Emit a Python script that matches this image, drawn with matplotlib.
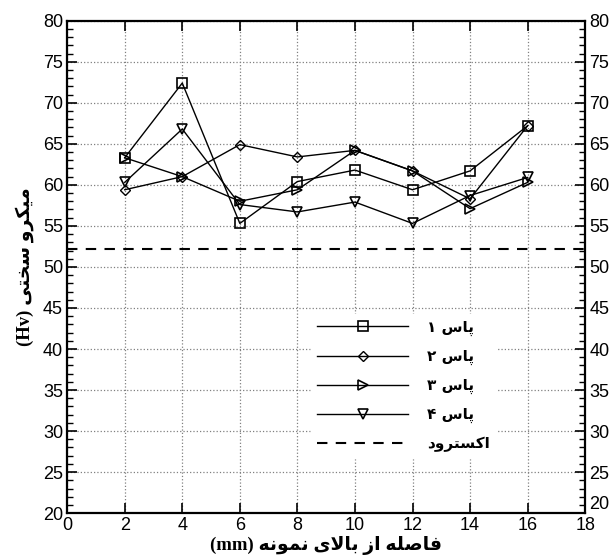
import matplotlib
matplotlib.use("Agg")
import matplotlib.pyplot as plt
from matplotlib.ticker import MultipleLocator

# data
x = [2, 4, 6, 8, 10, 12, 14, 16]
pass1 = [63.3, 72.4, 55.3, 60.4, 61.8, 59.4, 61.7, 67.2]
pass2 = [59.4, 61.0, 64.9, 63.4, 64.2, 61.7, 58.3, 67.2]
pass3 = [63.3, 61.0, 58.0, 59.4, 64.2, 61.7, 57.1, 60.3]
pass4 = [60.3, 66.8, 57.6, 56.7, 57.9, 55.3, 58.7, 60.9]
electrode = 52.2

labels = ["پاس ۱", "پاس ۲", "پاس ۳", "پاس ۴", "اکسترود"]
xlabel = "فاصله از بالای نمونه"
ylabel = "میکرو سختی"

# minimal arabic/persian shaping: (isolated, final, initial, medial)
FORMS = {
    'ا': ('\uFE8D', '\uFE8E', None, None),
    'ب': ('\uFE8F', '\uFE90', '\uFE91', '\uFE92'),
    'ت': ('\uFE95', '\uFE96', '\uFE97', '\uFE98'),
    'خ': ('\uFEA5', '\uFEA6', '\uFEA7', '\uFEA8'),
    'د': ('\uFEA9', '\uFEAA', None, None),
    'ر': ('\uFEAD', '\uFEAE', None, None),
    'ز': ('\uFEAF', '\uFEB0', None, None),
    'س': ('\uFEB1', '\uFEB2', '\uFEB3', '\uFEB4'),
    'ص': ('\uFEB9', '\uFEBA', '\uFEBB', '\uFEBC'),
    'ف': ('\uFED1', '\uFED2', '\uFED3', '\uFED4'),
    'ل': ('\uFEDD', '\uFEDE', '\uFEDF', '\uFEE0'),
    'م': ('\uFEE1', '\uFEE2', '\uFEE3', '\uFEE4'),
    'ن': ('\uFEE5', '\uFEE6', '\uFEE7', '\uFEE8'),
    'ه': ('\uFEE9', '\uFEEA', '\uFEEB', '\uFEEC'),
    'و': ('\uFEED', '\uFEEE', None, None),
    'پ': ('\uFB56', '\uFB57', '\uFB58', '\uFB59'),
    'ک': ('\uFB8E', '\uFB8F', '\uFB90', '\uFB91'),
    'ی': ('\uFBFC', '\uFBFD', '\uFBFE', '\uFBFF'),
}


def shape_word(w):
    out = []
    i = 0
    while i < len(w):
        c = w[i]
        if c not in FORMS:
            out.append(c)
            i += 1
            continue
        prev = w[i - 1] if i > 0 else None
        join_prev = prev in FORMS and FORMS[prev][2] is not None
        if c == 'ل' and i + 1 < len(w) and w[i + 1] == 'ا':
            out.append('\uFEFC' if join_prev else '\uFEFB')
            i += 2
            continue
        nxt = w[i + 1] if i + 1 < len(w) else None
        join_next = nxt in FORMS and FORMS[c][2] is not None
        f = FORMS[c]
        if join_prev and join_next:
            out.append(f[3])
        elif join_prev:
            out.append(f[1])
        elif join_next:
            out.append(f[2])
        else:
            out.append(f[0])
        i += 1
    return "".join(out[::-1])


def rtl(s):
    return " ".join(shape_word(w) for w in s.split(" ")[::-1])


plt.rcParams['font.family'] = ['Liberation Sans', 'DejaVu Sans']

fig = plt.figure(figsize=(6.16, 5.59), dpi=100)
ax = fig.add_axes([0.109, 0.082, 0.841, 0.881])

lw = 1.0
ms = 7.5
ax.plot(x, pass1, color='black', lw=lw, marker='s', ms=ms, mfc='none', mew=1.2, label=rtl(labels[0]))
ax.plot(x, pass2, color='black', lw=lw, marker='D', ms=5.5, mfc='none', mew=1.0, label=rtl(labels[1]))
ax.plot(x, pass3, color='black', lw=lw, marker='>', ms=ms, mfc='none', mew=1.2, label=rtl(labels[2]))
ax.plot(x, pass4, color='black', lw=lw, marker='v', ms=ms, mfc='none', mew=1.2, label=rtl(labels[3]))
ax.axhline(electrode, color='black', lw=1.5, ls=(0, (5, 4)), label=rtl(labels[4]))

ax.set_xlim(0, 18)
ax.set_ylim(20, 80)
ax.xaxis.set_major_locator(MultipleLocator(2))
ax.yaxis.set_major_locator(MultipleLocator(5))
ax.yaxis.set_minor_locator(MultipleLocator(1))
ax.tick_params(which='both', direction='in', top=True, right=True, labelright=True,
               labelsize=13, pad=3)
ax.tick_params(which='major', length=7, width=1.2)
ax.tick_params(which='minor', length=4, width=1.0)
ax.tick_params(axis='x', which='minor', bottom=False, top=False)
ax.grid(True, which='major', ls=':', color='gray', lw=0.9)
for sp in ax.spines.values():
    sp.set_linewidth(1.6)

ax.set_xlabel("(mm) " + rtl(xlabel), fontsize=13.5, fontweight='bold',
              family=['Liberation Serif', 'DejaVu Sans'], labelpad=1)
ax.set_ylabel("(Hv) " + rtl(ylabel), fontsize=13.5, fontweight='bold',
              family=['Liberation Serif', 'DejaVu Sans'], labelpad=6)

leg = ax.legend(loc='upper left', bbox_to_anchor=(0.47, 0.405), frameon=True,
                facecolor='white', edgecolor='white', framealpha=1, handlelength=6,
                prop={'size': 11, 'weight': 'bold', 'family': ['DejaVu Sans']},
                labelspacing=0.85, borderaxespad=0, handletextpad=1.2)

# right-hand "20" sits a little higher in the reference, clear of "18"
fig.canvas.draw()
for tick in ax.yaxis.get_major_ticks():
    if abs(tick.get_loc() - 20) < 1e-6:
        tick.label2.set_va('bottom')

fig.savefig("out.png", dpi=100)
